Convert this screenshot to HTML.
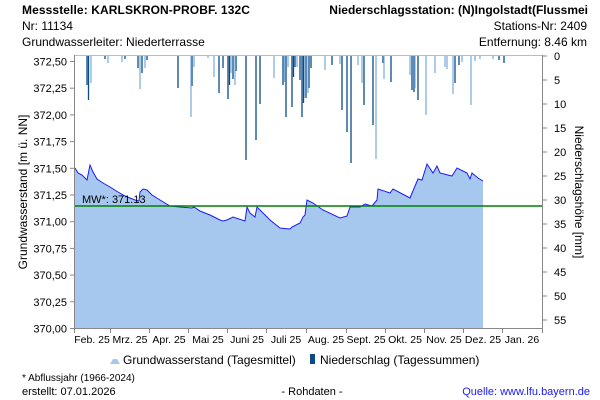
<!DOCTYPE html>
<html><head><meta charset="utf-8"><style>
body{margin:0;background:#fff}
svg{display:block;font-family:"Liberation Sans",sans-serif}
</style></head><body>
<svg width="600" height="400" viewBox="0 0 600 400" xmlns="http://www.w3.org/2000/svg">
<rect width="600" height="400" fill="#fff"/>
<g font-size="12" fill="#000">
<text x="22" y="14" font-weight="bold" letter-spacing="0.1">Messstelle: KARLSKRON-PROBF. 132C</text>
<text x="22" y="30">Nr: 11134</text>
<text x="22" y="46">Grundwasserleiter:   Niederterrasse</text>
<text x="588" y="14" text-anchor="end" font-weight="bold" letter-spacing="0">Niederschlagsstation: (N)Ingolstadt(Flussmei</text>
<text x="587" y="30" text-anchor="end">Stations-Nr: 2409</text>
<text x="587" y="46" text-anchor="end">Entfernung: 8.46 km</text>
</g>
<line x1="74" y1="55.5" x2="543" y2="55.5" stroke="#bbb"/>
<path d="M75,168 L78,173 82,175 87,180 90,165 93,172 97,179 103,183 110,187 118,192 125,196 135,200 139,201 140,192 143,189 147,190 152,195 160,200 170,206 180,207 192,208 194,207 200,211 210,215 220,220 223,221 227,220 233,217 245,221 247,207 250,213 255,217 257,207 260,210 270,220 280,228 290,229 292,227 300,223 303,217 305,215 307,200 313,203 323,210 340,218 347,216 350,207 360,207 365,204 372,206 377,200 378,189 390,193 393,189 410,198 415,186 418,179 422,180 427,164 433,173 437,166 440,173 452,176 457,168 467,173 470,179 472,173 478,178 483,181 L483,328 L75,328 Z" fill="#a6c8ee"/>
<path d="M75,168 L78,173 82,175 87,180 90,165 93,172 97,179 103,183 110,187 118,192 125,196 135,200 139,201 140,192 143,189 147,190 152,195 160,200 170,206 180,207 192,208 194,207 200,211 210,215 220,220 223,221 227,220 233,217 245,221 247,207 250,213 255,217 257,207 260,210 270,220 280,228 290,229 292,227 300,223 303,217 305,215 307,200 313,203 323,210 340,218 347,216 350,207 360,207 365,204 372,206 377,200 378,189 390,193 393,189 410,198 415,186 418,179 422,180 427,164 433,173 437,166 440,173 452,176 457,168 467,173 470,179 472,173 478,178 483,181" fill="none" stroke="#1a1aff" stroke-width="1"/>
<g stroke-width="1.3">
<g stroke="#0a4a85">
<line x1="87" y1="56" x2="87" y2="85"/><line x1="88.5" y1="56" x2="88.5" y2="100"/><line x1="105" y1="56" x2="105" y2="59"/><line x1="125" y1="56" x2="125" y2="59"/>
<line x1="138" y1="56" x2="138" y2="68"/><line x1="142" y1="56" x2="142" y2="73"/><line x1="147" y1="56" x2="147" y2="60"/>
<line x1="178" y1="56" x2="178" y2="88"/><line x1="192" y1="56" x2="192" y2="86"/><line x1="219" y1="56" x2="219" y2="93"/><line x1="223" y1="56" x2="223" y2="68"/>
<line x1="228" y1="56" x2="228" y2="99"/><line x1="229.5" y1="56" x2="229.5" y2="85"/><line x1="233" y1="56" x2="233" y2="79"/><line x1="236" y1="56" x2="236" y2="71"/>
<line x1="246" y1="56" x2="246" y2="160"/><line x1="256" y1="56" x2="256" y2="140"/><line x1="260" y1="56" x2="260" y2="104"/>
<line x1="283" y1="56" x2="283" y2="85"/><line x1="286" y1="56" x2="286" y2="117"/><line x1="292" y1="56" x2="292" y2="107"/><line x1="293.5" y1="56" x2="293.5" y2="77"/><line x1="295" y1="56" x2="295" y2="67"/>
<line x1="300" y1="56" x2="300" y2="80"/><line x1="302" y1="56" x2="302" y2="117"/><line x1="303.5" y1="56" x2="303.5" y2="103"/><line x1="306" y1="56" x2="306" y2="98"/><line x1="309" y1="56" x2="309" y2="88"/><line x1="311" y1="56" x2="311" y2="68"/>
<line x1="332" y1="56" x2="332" y2="65"/><line x1="342" y1="56" x2="342" y2="110"/><line x1="347" y1="56" x2="347" y2="132"/><line x1="351" y1="56" x2="351" y2="163"/>
<line x1="364" y1="56" x2="364" y2="105"/><line x1="373" y1="56" x2="373" y2="125"/><line x1="383" y1="56" x2="383" y2="63"/><line x1="391" y1="56" x2="391" y2="82"/>
<line x1="412" y1="56" x2="412" y2="90"/><line x1="414" y1="56" x2="414" y2="92"/><line x1="418" y1="56" x2="418" y2="100"/><line x1="455" y1="56" x2="455" y2="83"/><line x1="459" y1="56" x2="459" y2="65"/><line x1="499" y1="56" x2="499" y2="60"/><line x1="504" y1="56" x2="504" y2="63"/>
</g>
<g stroke="#7fb0dc">
<line x1="91" y1="56" x2="91" y2="83"/><line x1="108" y1="56" x2="108" y2="63"/><line x1="122" y1="56" x2="122" y2="62"/><line x1="140" y1="56" x2="140" y2="89"/><line x1="145" y1="56" x2="145" y2="68"/>
<line x1="191" y1="56" x2="191" y2="117"/><line x1="194" y1="56" x2="194" y2="67"/><line x1="208" y1="56" x2="208" y2="58"/><line x1="214" y1="56" x2="214" y2="77"/><line x1="231" y1="56" x2="231" y2="73"/><line x1="235" y1="56" x2="235" y2="85"/>
<line x1="274" y1="56" x2="274" y2="78"/><line x1="284.5" y1="56" x2="284.5" y2="82"/><line x1="288" y1="56" x2="288" y2="67"/><line x1="297" y1="56" x2="297" y2="67"/><line x1="305" y1="56" x2="305" y2="98"/><line x1="308" y1="56" x2="308" y2="93"/>
<line x1="325" y1="56" x2="325" y2="70"/><line x1="340" y1="56" x2="340" y2="64"/><line x1="358" y1="56" x2="358" y2="65"/><line x1="362" y1="56" x2="362" y2="83"/><line x1="376" y1="56" x2="376" y2="159"/><line x1="384" y1="56" x2="384" y2="79"/>
<line x1="410" y1="56" x2="410" y2="75"/><line x1="415" y1="56" x2="415" y2="88"/><line x1="426" y1="56" x2="426" y2="115"/><line x1="435" y1="56" x2="435" y2="73"/><line x1="445" y1="56" x2="445" y2="67"/><line x1="447" y1="56" x2="447" y2="69"/>
<line x1="453" y1="56" x2="453" y2="94"/><line x1="462" y1="56" x2="462" y2="62"/><line x1="471" y1="56" x2="471" y2="105"/><line x1="475" y1="56" x2="475" y2="61"/><line x1="480" y1="56" x2="480" y2="59"/><line x1="493" y1="56" x2="493" y2="59"/>
</g>
</g>
<line x1="74" y1="206" x2="543" y2="206" stroke="#008000" stroke-width="1.5"/>
<text x="82" y="203" font-size="11" fill="#000">MW*: 371.13</text>
<g stroke="#888" fill="none">
<line x1="74.5" y1="55" x2="74.5" y2="329"/>
<line x1="542.5" y1="55" x2="542.5" y2="329"/>
<line x1="74" y1="328.5" x2="543" y2="328.5"/>
</g>
<g stroke="#888">
<line x1="70" y1="61.5" x2="74" y2="61.5"/><line x1="70" y1="88.2" x2="74" y2="88.2"/><line x1="70" y1="114.9" x2="74" y2="114.9"/><line x1="70" y1="141.6" x2="74" y2="141.6"/><line x1="70" y1="168.3" x2="74" y2="168.3"/><line x1="70" y1="195" x2="74" y2="195"/><line x1="70" y1="221.7" x2="74" y2="221.7"/><line x1="70" y1="248.4" x2="74" y2="248.4"/><line x1="70" y1="275.1" x2="74" y2="275.1"/><line x1="70" y1="301.8" x2="74" y2="301.8"/><line x1="70" y1="328.5" x2="74" y2="328.5"/>
<line x1="543" y1="56" x2="547" y2="56"/><line x1="543" y1="80" x2="547" y2="80"/><line x1="543" y1="104" x2="547" y2="104"/><line x1="543" y1="128" x2="547" y2="128"/><line x1="543" y1="152" x2="547" y2="152"/><line x1="543" y1="176" x2="547" y2="176"/><line x1="543" y1="200" x2="547" y2="200"/><line x1="543" y1="224" x2="547" y2="224"/><line x1="543" y1="248" x2="547" y2="248"/><line x1="543" y1="272" x2="547" y2="272"/><line x1="543" y1="296" x2="547" y2="296"/><line x1="543" y1="320" x2="547" y2="320"/>
<line x1="74.5" y1="328" x2="74.5" y2="333"/><line x1="110.5" y1="328" x2="110.5" y2="333"/><line x1="149.5" y1="328" x2="149.5" y2="333"/><line x1="188.5" y1="328" x2="188.5" y2="333"/><line x1="227.5" y1="328" x2="227.5" y2="333"/><line x1="266.5" y1="328" x2="266.5" y2="333"/><line x1="306.5" y1="328" x2="306.5" y2="333"/><line x1="346.5" y1="328" x2="346.5" y2="333"/><line x1="385.5" y1="328" x2="385.5" y2="333"/><line x1="424.5" y1="328" x2="424.5" y2="333"/><line x1="463.5" y1="328" x2="463.5" y2="333"/><line x1="502.5" y1="328" x2="502.5" y2="333"/><line x1="542.5" y1="328" x2="542.5" y2="333"/>
</g>
<g font-size="11" fill="#000" text-anchor="end">
<text x="67" y="65.5">372,50</text><text x="67" y="92.2">372,25</text><text x="67" y="118.9">372,00</text><text x="67" y="145.6">371,75</text><text x="67" y="172.3">371,50</text><text x="67" y="199">371,25</text><text x="67" y="225.7">371,00</text><text x="67" y="252.4">370,75</text><text x="67" y="279.1">370,50</text><text x="67" y="305.8">370,25</text><text x="67" y="332.5">370,00</text>
</g>
<g font-size="11" fill="#000">
<text x="554" y="60">0</text><text x="554" y="84">5</text><text x="554" y="108">10</text><text x="554" y="132">15</text><text x="554" y="156">20</text><text x="554" y="180">25</text><text x="554" y="204">30</text><text x="554" y="228">35</text><text x="554" y="252">40</text><text x="554" y="276">45</text><text x="554" y="300">50</text><text x="554" y="324">55</text>
</g>
<g font-size="10.5" fill="#000" text-anchor="middle">
<text x="92" y="343">Feb. 25</text><text x="130" y="343">Mrz. 25</text><text x="169" y="343">Apr. 25</text><text x="208" y="343">Mai 25</text><text x="247" y="343">Juni 25</text><text x="286" y="343">Juli 25</text><text x="326" y="343">Aug. 25</text><text x="366" y="343">Sept. 25</text><text x="405" y="343">Okt. 25</text><text x="444" y="343">Nov. 25</text><text x="483" y="343">Dez. 25</text><text x="522" y="343">Jan. 26</text>
</g>
<text transform="translate(27,192) rotate(-90)" font-size="12" text-anchor="middle">Grundwasserstand [m ü. NN]</text>
<text transform="translate(575,192) rotate(90)" font-size="12" text-anchor="middle">Niederschlagshöhe [mm]</text>
<path d="M110,364 L113,359 L117,359 L120,364 Z" fill="#a6c8ee"/>
<text x="123" y="364" font-size="12">Grundwasserstand (Tagesmittel)</text>
<rect x="310" y="354" width="5" height="10" fill="#0a4a85"/>
<text x="320" y="364" font-size="12">Niederschlag (Tagessummen)</text>
<text x="22" y="381" font-size="10">* Abflussjahr (1966-2024)</text>
<text x="22" y="395" font-size="11">erstellt:  07.01.2026</text>
<text x="312" y="395" font-size="11" text-anchor="middle">- Rohdaten -</text>
<text x="590" y="395" font-size="11" text-anchor="end" fill="#1a1aff">Quelle: www.lfu.bayern.de</text>
</svg>
</body></html>
